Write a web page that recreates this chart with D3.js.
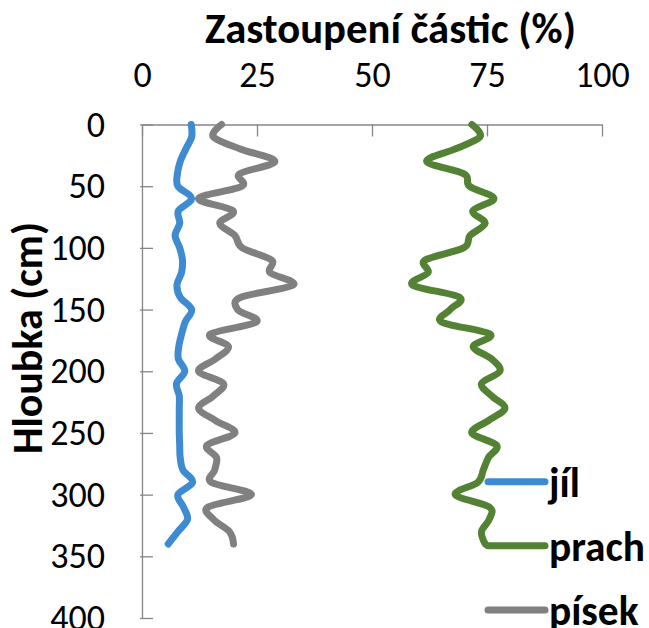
<!DOCTYPE html>
<html>
<head>
<meta charset="utf-8">
<script src="https://cdn.jsdelivr.net/npm/d3@7"></script>
<style>
  html, body { margin: 0; padding: 0; background: #fff; }
  svg { display: block; }
  text { font-family: Carlito, Lato, "Open Sans", sans-serif; fill: #000; }
</style>
</head>
<body>
<svg id="chart" width="649" height="628"></svg>
<script>
// ---- data ----
const depths = [0,10,20,30,40,50,60,70,80,90,100,110,120,130,140,150,160,170,180,190,200,210,220,230,240,250,260,270,280,290,300,310,320,330,340];
const jil   = [10.7,10.8,9.5,8.3,7.7,7.8,10.8,7.9,8.2,7.2,8.2,8.8,8.6,7.6,8.3,10.8,9.4,8.6,8.0,7.9,9.3,7.5,8.1,8.1,8.1,8.1,8.2,8.3,8.9,11.0,7.8,9.0,9.9,7.8,5.7];
const pisek = [17.3,15.5,21.5,28.9,21.2,21.7,12.3,19.8,16.9,20.2,21.8,28.2,27.8,32.9,21.5,20.8,24.9,14.8,18.8,16.0,12.3,17.7,15.5,12.3,16.0,20.2,14.1,16.2,15.8,15.1,23.8,14.4,15.5,19.0,19.9];
const prach = [71.7,73.5,68.0,61.9,70.0,71.2,76.5,71.9,74.6,71.3,69.9,61.5,62.2,58.8,69.0,67.0,65.1,75.7,72.0,76.0,77.8,73.8,76.0,78.9,75.3,71.7,77.1,75.3,74.2,73.0,68.1,75.5,75.5,73.8,74.6];
const xTicks = [0,25,50,75,100];
const yTicks = [0,50,100,150,200,250,300,350,400];
const seriesNames = ["jíl","prach","písek"];
const seriesColors = ["#3F8BD1","#548235","#808080"];
const xTitle = "Zastoupení částic (%)";
const yTitle = "Hloubka (cm)";

const series = [
  {name: seriesNames[0], values: jil,   color: seriesColors[0]},
  {name: seriesNames[1], values: prach, color: seriesColors[1]},
  {name: seriesNames[2], values: pisek, color: seriesColors[2]}
];

const svg = d3.select("#chart");
const x = d3.scaleLinear().domain([0,100]).range([142,602]);
const y = d3.scaleLinear().domain([0,400]).range([124.5,618]);

// fit helper
function fit(sel, target) {
  const w = sel.node().getComputedTextLength();
  const fs = parseFloat(sel.attr("font-size"));
  sel.attr("font-size", fs * target / w);
}

// axes
const axisColor = "#868686";
const gx = svg.append("g").attr("transform", `translate(0,${y(0)})`)
  .call(d3.axisTop(x).tickValues(xTicks).tickSizeInner(-12).tickSizeOuter(0).tickPadding(37.5).tickFormat(d3.format("d")));
const gy = svg.append("g").attr("transform", `translate(${x(0)},0)`)
  .call(d3.axisLeft(y).tickValues(yTicks).tickSizeInner(-11).tickSizeOuter(0).tickPadding(37).tickFormat(d3.format("d")));
[gx, gy].forEach(g => {
  g.select(".domain").attr("stroke", axisColor).attr("stroke-width", 1.3);
  g.selectAll(".tick line").attr("stroke", axisColor).attr("stroke-width", 1.3);
  g.selectAll(".tick text").attr("font-size", 36).attr("fill", "#000")
    .style("font-family", 'Carlito, Lato, "Open Sans", sans-serif');
});
gy.selectAll(".tick text").attr("dy", "0.32em");
// extend y ticks slightly outside
gy.selectAll(".tick line").attr("x1", -2);

// lines
const line = d3.line()
  .x(d => x(d[1]))
  .y(d => y(d[0]))
  .curve(d3.curveCardinal.tension(0));

// draw order: písek, jíl, prach (prach on top)
[series[2], series[0], series[1]].forEach(s => {
  svg.append("path")
    .datum(depths.map((dd, i) => [dd, s.values[i]]))
    .attr("fill", "none")
    .attr("stroke", s.color)
    .attr("stroke-width", 7)
    .attr("stroke-linecap", "round")
    .attr("stroke-linejoin", "round")
    .attr("d", line);
});

// titles
const tx = svg.append("text").attr("x", 390.5).attr("y", 43)
  .attr("text-anchor", "middle").attr("font-weight", "bold").attr("font-size", 28).text(xTitle);
fit(tx, 371);

const ty = svg.append("text")
  .attr("transform", "translate(42,338) rotate(-90)")
  .attr("text-anchor", "middle").attr("font-weight", "bold").attr("font-size", 28).text(yTitle);
fit(ty, 232);

// legend
const legendY = [481.7, 545.7, 610];
const leg = svg.append("g");
series.forEach((s, i) => {
  leg.append("line")
    .attr("x1", 488).attr("x2", 545)
    .attr("y1", legendY[i]).attr("y2", legendY[i])
    .attr("stroke", s.color).attr("stroke-width", 7).attr("stroke-linecap", "round");
});
const legTexts = series.map((s, i) => leg.append("text")
  .attr("x", 549).attr("y", legendY[i]).attr("dy", "0.36em")
  .attr("font-weight", "bold").attr("font-size", 28).text(s.name));
// fit "prach" width and apply same size to all legend entries
const pw = legTexts[1].node().getComputedTextLength();
const lfs = 28 * 96 / pw;
legTexts.forEach(t => t.attr("font-size", lfs));
</script>
</body>
</html>
